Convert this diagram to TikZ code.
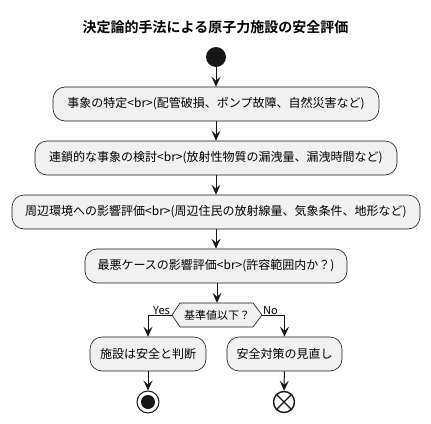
\documentclass[tikz,border=0pt]{standalone}
\usepackage{fontspec}
\setmainfont{Noto Sans CJK JP}[BoldFont={Noto Sans CJK JP Bold}]
\usetikzlibrary{arrows.meta,calc}
\definecolor{boxfill}{HTML}{F1F1F1}
\definecolor{lineclr}{HTML}{181818}
\tikzset{
  actbox/.style={draw=lineclr, line width=0.6pt, fill=boxfill, rounded corners=12pt,
    minimum height=34pt, inner sep=0pt, font=\fontsize{12}{14}\selectfont},
  flow/.style={draw=lineclr, line width=1pt, -{Stealth[length=10pt,width=9pt,inset=4pt]}},
  lbl/.style={font=\fontsize{11}{13}\selectfont, inner sep=1pt}
}
\begin{document}
\begin{tikzpicture}[x=1pt,y=1pt]
\useasboundingbox (0,0) rectangle (431,-423);
\node[font=\bfseries\fontsize{14}{16}\selectfont] (title) at (215.5,-27) {決定論的手法による原子力施設の安全評価};
\node[circle, fill=lineclr, minimum size=20pt, inner sep=0pt] (start) at (216,-57) {};
\node[actbox, minimum width=326pt] (b1) at (216,-104) {事象の特定<br>(配管破損、ポンプ故障、自然災害など)};
\node[actbox, minimum width=362pt] (b2) at (216,-158) {連鎖的な事象の検討<br>(放射性物質の漏洩量、漏洩時間など)};
\node[actbox, minimum width=408pt] (b3) at (216,-212) {周辺環境への影響評価<br>(周辺住民の放射線量、気象条件、地形など)};
\node[actbox, minimum width=262pt] (b4) at (216,-266) {最悪ケースの影響評価<br>(許容範囲内か？)};
\coordinate (dc) at (217,-315);
\draw[draw=lineclr, line width=0.6pt, fill=boxfill]
  ($(dc)+(-45,0)$) -- ($(dc)+(-37,12)$) -- ($(dc)+(36,12)$) -- ($(dc)+(45,0)$)
  -- ($(dc)+(36,-12)$) -- ($(dc)+(-37,-12)$) -- cycle;
\node[minimum width=90pt, minimum height=24pt, inner sep=0pt, font=\fontsize{11}{13}\selectfont] (dec) at (dc) {基準値以下？};
\node[actbox, minimum width=116pt] (yes) at (148,-354) {施設は安全と判断};
\node[actbox, minimum width=115pt] (no) at (284.5,-354) {安全対策の見直し};
\node[circle, draw=lineclr, line width=1pt, fill=white, minimum size=22pt, inner sep=0pt] (end) at (148,-402) {};
\node[circle, fill=lineclr, minimum size=14pt, inner sep=0pt] (endin) at (end) {};
\node[circle, draw=lineclr, line width=1.4pt, fill=white, minimum size=21pt, inner sep=0pt] (stop) at (284,-402) {};
\draw[lineclr, line width=1.4pt] (stop.north west) -- (stop.south east) (stop.north east) -- (stop.south west);
\draw[flow] (start) -- (b1);
\draw[flow] (b1) -- (b2);
\draw[flow] (b2) -- (b3);
\draw[flow] (b3) -- (b4);
\draw[flow] (b4.south -| dec.north) -- (dec.north);
\draw[flow] (dec.west) -| (yes.north);
\draw[flow] (dec.east) -| (no.north);
\node[lbl, anchor=south east] (ylab) at (171,-316) {Yes};
\node[lbl, anchor=south west] (nlab) at (262,-316) {No};
\draw[flow] (yes) -- (end);
\draw[flow] (no) -- (stop);
\end{tikzpicture}
\end{document}
